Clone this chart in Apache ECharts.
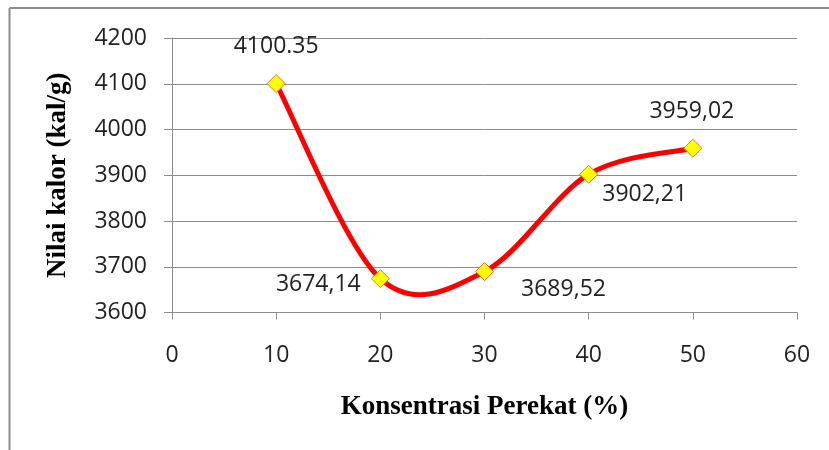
<!DOCTYPE html>
<html>
<head>
<meta charset="utf-8">
<script src="https://cdn.jsdelivr.net/npm/echarts@6/dist/echarts.min.js"></script>
<style>html,body{margin:0;padding:0;background:#fff;}#c{width:829px;height:450px;}</style>
</head>
<body>
<div id="c"></div>
<script>
var xValues = [10, 20, 30, 40, 50];
var yValues = [4100.35, 3674.14, 3689.52, 3902.21, 3959.02];
var pointLabels = ['4100.35', '3674,14', '3689,52', '3902,21', '3959,02'];
var labelOffsets = [[0, -37], [-62, 6], [79, 18], [56, 20], [-1, -37]];
var xTitle = 'Konsentrasi Perekat (%)';
var yTitle = 'Nilai kalor (kal/g)';

var chart = echarts.init(document.getElementById('c'));
var gray = '#8c8c8c';
var txtFont = '"Open Sans", Lato, sans-serif';
var pairs = xValues.map(function (x, i) { return [x, yValues[i]]; });
var scatterData = pairs.map(function (p, i) {
  return {
    value: p,
    label: { show: true, position: 'inside', offset: labelOffsets[i], formatter: pointLabels[i] }
  };
});
var n = xValues.length;
function renderCurve(params, api) {
  var i = params.dataIndex;
  if (i >= n - 1) return null;
  function P(j) {
    j = Math.max(0, Math.min(n - 1, j));
    return api.coord([xValues[j], yValues[j]]);
  }
  var p0 = P(i - 1), p1 = P(i), p2 = P(i + 1), p3 = P(i + 2);
  var k = 1 / 6;
  return {
    type: 'bezierCurve',
    shape: {
      x1: p1[0], y1: p1[1], x2: p2[0], y2: p2[1],
      cpx1: p1[0] + (p2[0] - p0[0]) * k, cpy1: p1[1] + (p2[1] - p0[1]) * k,
      cpx2: p2[0] - (p3[0] - p1[0]) * k, cpy2: p2[1] - (p3[1] - p1[1]) * k
    },
    style: { stroke: '#ff0000', lineWidth: 5, fill: 'none', lineCap: 'round' }
  };
}
chart.setOption({
  animation: false,
  backgroundColor: '#fff',
  grid: { left: 172, right: 32, top: 38, bottom: 137.5, containLabel: false },
  xAxis: {
    type: 'value', min: 0, max: 60, interval: 10,
    axisLine: { show: true, onZero: false, lineStyle: { color: gray, width: 1 } },
    axisTick: { show: true, length: 7, lineStyle: { color: gray } },
    axisLabel: { margin: 31, color: '#222', fontFamily: txtFont, fontSize: 23 },
    splitLine: { show: false },
    name: xTitle, nameLocation: 'middle', nameGap: 81,
    nameTextStyle: { fontFamily: '"Liberation Serif", serif', fontWeight: 'bold', fontSize: 27, color: '#000' }
  },
  yAxis: {
    type: 'value', min: 3600, max: 4200, interval: 100,
    axisLine: { show: true, lineStyle: { color: gray, width: 1 } },
    axisTick: { show: true, length: 8, lineStyle: { color: gray } },
    axisLabel: { margin: 25, color: '#222', fontFamily: txtFont, fontSize: 23, formatter: function (v) { return String(v); } },
    splitLine: { show: true, lineStyle: { color: gray, width: 1 } },
    name: yTitle, nameLocation: 'middle', nameGap: 100, nameRotate: 90,
    nameTextStyle: { fontFamily: '"Liberation Serif", serif', fontWeight: 'bold', fontSize: 27, color: '#000' }
  },
  graphic: [
    { type: 'line', shape: { x1: 9.5, y1: 8, x2: 829, y2: 8 }, style: { stroke: gray, lineWidth: 2 } },
    { type: 'line', shape: { x1: 9.5, y1: 8, x2: 9.5, y2: 450 }, style: { stroke: gray, lineWidth: 2 } }
  ],
  series: [{
    type: 'custom',
    data: pairs,
    renderItem: renderCurve,
    z: 2,
    silent: true
  }, {
    type: 'scatter',
    data: scatterData,
    symbol: 'diamond',
    symbolSize: 18,
    itemStyle: { color: '#ffff00', borderColor: '#f07030', borderWidth: 1, opacity: 1 },
    label: { color: '#222', fontFamily: txtFont, fontSize: 23 },
    z: 3
  }]
});
</script>
</body>
</html>
